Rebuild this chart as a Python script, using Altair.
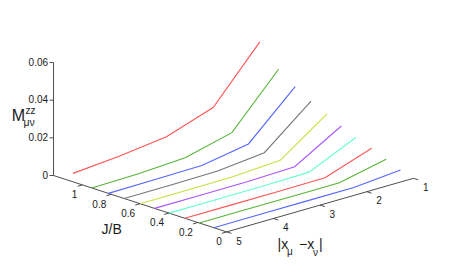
import altair as alt
import pandas as pd

# ---------------- data ----------------
jb_values = [0.09, 0.19, 0.29, 0.40, 0.50, 0.60, 0.71, 0.82, 0.935, 1.065]
sep_values = [5, 4, 3, 2, 1]
# M^zz at |x_mu - x_nu| = 5, 4, 3, 2, 1 for every J/B line (front to back)
m_values = [
    [0.0, 0.0, 0.0, 0.0, 0.0022],
    [0.0, 0.0, 0.0, 0.0, 0.0054],
    [0.0, 0.0, 0.0, 0.0002, 0.0087],
    [0.0, 0.0, 0.0, 0.0004, 0.0117],
    [0.0, 0.0, 0.0001, 0.0008, 0.0153],
    [0.0, 0.0, 0.0002, 0.0017, 0.0192],
    [0.0, 0.0001, 0.0004, 0.0030, 0.0232],
    [0.0, 0.0002, 0.0006, 0.0049, 0.0282],
    [0.0, 0.0004, 0.0018, 0.0080, 0.0346],
    [0.0045, 0.0066, 0.0097, 0.0181, 0.0459],
]
line_colors = ["#5566ff", "#55b536", "#ff5555", "#66ffcc", "#aa55ff",
               "#ccdd44", "#777777", "#5566ff", "#55b536", "#ff5555"]

jb_ticks = [0, 0.2, 0.4, 0.6, 0.8, 1]
jb_tick_labels = ["0", "0.2", "0.4", "0.6", "0.8", "1"]
sep_ticks = [1, 2, 3, 4, 5]
sep_tick_labels = ["1", "2", "3", "4", "5"]
z_ticks = [0, 0.02, 0.04, 0.06]
z_tick_labels = ["0", "0.02", "0.04", "0.06"]
jb_lim = [0, 1.2]
sep_lim = [1, 5]
z_lim = [0, 0.06]

# ---------------- 3-D view (orthographic projection) ----------------
X0, Y0 = 460.2, 164.9
RX, RY = -46.7, 13.4      # screen shift per unit of |x_mu - x_nu|
JX, JY = -144.3, -47.0    # screen shift per unit of J/B
ZY = -1883.0              # screen shift per unit of M


def proj(j, r, z):
    return X0 + RX * r + JX * j, Y0 + RY * r + JY * j + ZY * z


# data lines
rows = []
for i, (jb, ms) in enumerate(zip(jb_values, m_values)):
    for k, (r, m) in enumerate(zip(sep_values, ms)):
        sx, sy = proj(jb, r, m)
        rows.append({"series": f"s{i}", "step": k, "sx": sx, "sy": sy})
lines_df = pd.DataFrame(rows)

# axis lines and tick marks
seg = []
a = proj(jb_lim[0], sep_lim[1], 0); b = proj(jb_lim[1], sep_lim[1], 0)
seg.append((a, b))
a = proj(jb_lim[0], sep_lim[1], 0); b = proj(jb_lim[0], sep_lim[0], 0)
seg.append((a, b))
a = proj(jb_lim[1], sep_lim[1], z_lim[0]); b = proj(jb_lim[1], sep_lim[1], z_lim[1])
seg.append((a, b))
for t in jb_ticks:
    p = proj(t, sep_lim[1], 0)
    seg.append((p, (p[0] - 4.8, p[1] + 1.4)))
for t in sep_ticks:
    p = proj(jb_lim[0], t, 0)
    seg.append((p, (p[0] + 4.8, p[1] + 1.5)))
for t in z_ticks:
    p = proj(jb_lim[1], sep_lim[1], t)
    seg.append((p, (p[0] - 4, p[1])))
axes_df = pd.DataFrame([{"x": s[0][0], "y": s[0][1], "x2": s[1][0], "y2": s[1][1]} for s in seg])

jb_lab_df = pd.DataFrame([{"x": proj(t, sep_lim[1], 0)[0] - 5, "y": proj(t, sep_lim[1], 0)[1] + 10.3, "t": l}
                          for t, l in zip(jb_ticks, jb_tick_labels)])
sep_lab_df = pd.DataFrame([{"x": proj(jb_lim[0], t, 0)[0] + 9.5, "y": proj(jb_lim[0], t, 0)[1] + 9.6, "t": l}
                           for t, l in zip(sep_ticks, sep_tick_labels)])
z_lab_df = pd.DataFrame([{"x": proj(jb_lim[1], sep_lim[1], t)[0] - 5.5, "y": proj(jb_lim[1], sep_lim[1], t)[1], "t": l}
                         for t, l in zip(z_ticks, z_tick_labels)])

W, H = 447, 257
xs = alt.Scale(domain=[8, 8 + W], nice=False, zero=False)
ys = alt.Scale(domain=[8, 8 + H], nice=False, zero=False, reverse=True)
FONT = "Liberation Sans"
TXT = "#1a1a1a"


def X(f):
    return alt.X(f, type="quantitative", scale=xs, axis=None)


def Y(f):
    return alt.Y(f, type="quantitative", scale=ys, axis=None)


axes_layer = alt.Chart(axes_df).mark_rule(color="#3a3a3a", strokeWidth=0.9).encode(
    x=X("x"), y=Y("y"), x2="x2", y2="y2")

line_layer = alt.Chart(lines_df).mark_line(strokeWidth=1.1).encode(
    x=X("sx"), y=Y("sy"),
    color=alt.Color("series:N", scale=alt.Scale(domain=[f"s{i}" for i in range(len(jb_values))],
                                                  range=line_colors), legend=None),
    order="step:Q")

jb_lab = alt.Chart(jb_lab_df).mark_text(align="right", baseline="middle", font=FONT, fontSize=10,
                                         color=TXT).encode(x=X("x"), y=Y("y"), text="t:N")
sep_lab = alt.Chart(sep_lab_df).mark_text(align="left", baseline="middle", font=FONT, fontSize=10,
                                           color=TXT).encode(x=X("x"), y=Y("y"), text="t:N")
z_lab = alt.Chart(z_lab_df).mark_text(align="right", baseline="middle", font=FONT, fontSize=10,
                                       color=TXT).encode(x=X("x"), y=Y("y"), text="t:N")

# axis titles
title_parts = pd.DataFrame([
    {"x": 18.3, "y": 121, "t": "M", "s": 16, "a": "center"},
    {"x": 25.5, "y": 114, "t": "zz", "s": 10, "a": "left"},
    {"x": 23.5, "y": 126, "t": "μν", "s": 10.5, "a": "left"},
    {"x": 111.7, "y": 233.5, "t": "J/B", "s": 14, "a": "center"},
    {"x": 277.5, "y": 249, "t": "|x", "s": 14, "a": "left"},
    {"x": 287.0, "y": 254.5, "t": "μ", "s": 10, "a": "left"},
    {"x": 299.0, "y": 249, "t": "−x", "s": 14, "a": "left"},
    {"x": 313.0, "y": 255.5, "t": "ν", "s": 10, "a": "left"},
    {"x": 319.0, "y": 249, "t": "|", "s": 14, "a": "left"},
])
title_layers = []
for _, r in title_parts.iterrows():
    title_layers.append(
        alt.Chart(pd.DataFrame([r])).mark_text(align=r["a"], baseline="alphabetic", font=FONT,
                                               fontSize=float(r["s"]), color=TXT)
        .encode(x=X("x"), y=Y("y"), text="t:N"))

chart = alt.layer(axes_layer, line_layer, jb_lab, sep_lab, z_lab, *title_layers).properties(
    width=W, height=H, padding=0, autosize=alt.AutoSizeParams(type="none")
).configure(background="white").configure_view(stroke=None, strokeWidth=0)

chart.save("out.html", embed_options={"renderer": "svg", "actions": False})
